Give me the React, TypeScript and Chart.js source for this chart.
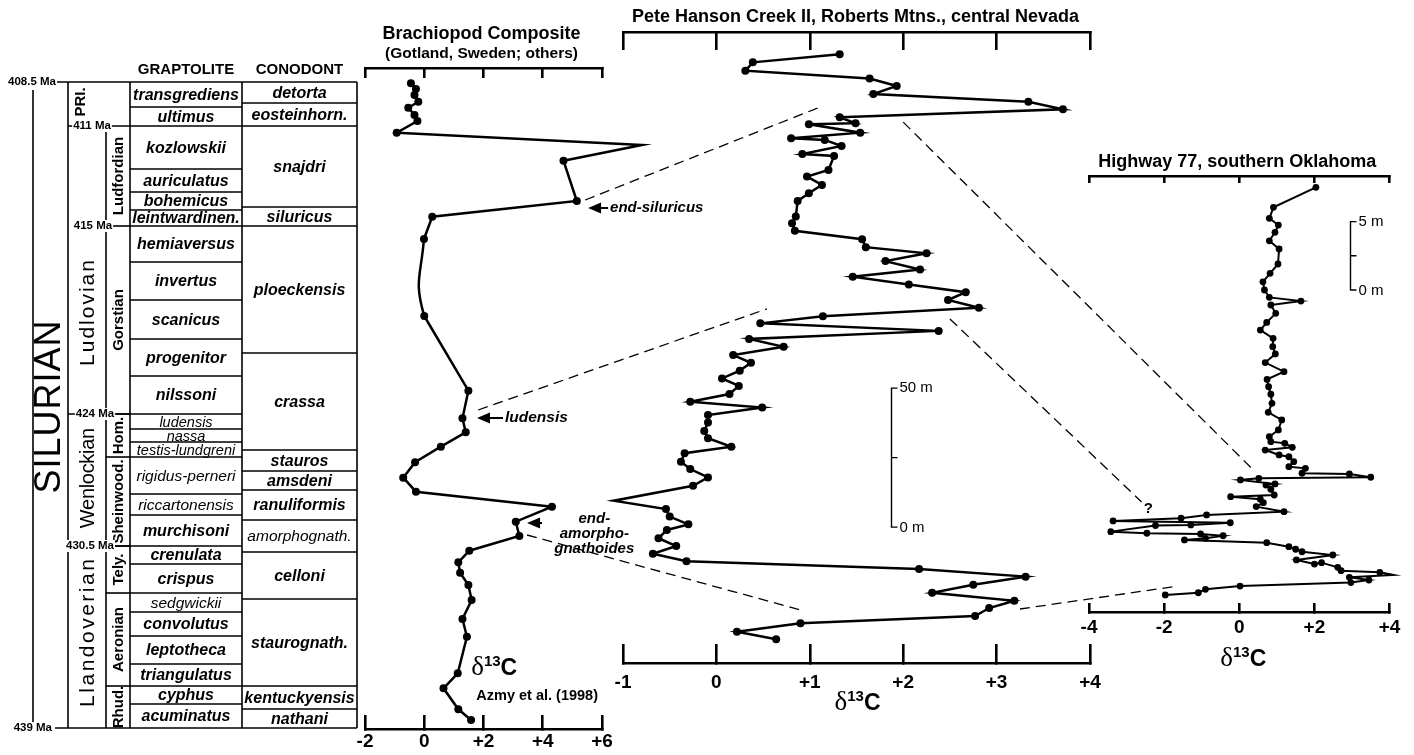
import React, { useEffect, useRef } from 'react';
import Chart from 'chart.js/auto';

const SANS = '"Liberation Sans", Arial, Helvetica, sans-serif';
const SERIF = '"Liberation Serif", "Times New Roman", Times, serif';
const PAGE_W = 1414;
const PAGE_H = 755;

// ---------- Brachiopod composite: δ13C vs level in the time column (0 = top, 408.5 Ma) ----------
const brachD13C = [-0.45, -0.28, -0.33, -0.2, -0.54, -0.33, -0.23, -0.93, 7.35, 4.7, 5.15, 0.27, -0.01, 0.0, 1.49, 1.29, 1.4, 0.56, -0.31, -0.71, -0.28, 4.31, 3.09, 3.21, 1.52, 1.15, 1.21, 1.49, 1.6, 1.29, 1.44, 1.13, 0.65, 1.15, 1.58];
const brachLevel = [1.3, 7, 13, 19.7, 25.7, 33, 39, 50.7, 63, 78.7, 119, 134.7, 157, 234, 308.7, 336.3, 350.3, 364.7, 380.3, 395.7, 409.7, 424.7, 439.7, 454, 468.7, 480.3, 490.7, 503, 518, 537, 554.7, 591.3, 606.3, 627.3, 638];
// the smoothed segment of the brachiopod curve runs between these two indices
const brachCurveFrom = 12;
const brachCurveTo = 13;

// ---------- Pete Hanson Creek II: δ13C vs height in section (m) ----------
const peteD13C = [1.32, 0.39, 0.31, 1.64, 1.93, 1.68, 3.34, 3.71, 1.32, 1.49, 0.99, 1.54, 0.8, 1.16, 1.34, 0.92, 1.26, 1.2, 0.97, 1.13, 0.99, 0.87, 0.85, 0.81, 0.84, 1.56, 1.6, 2.25, 1.81, 2.18, 1.46, 2.06, 2.67, 2.48, 2.81, 1.14, 0.47, 2.38, 0.35, 0.72, 0.18, 0.37, 0.25, 0.06, 0.24, 0.14, -0.28, 0.49, -0.09, -0.09, -0.13, -0.09, 0.16, -0.34, -0.38, -0.28, -0.09, -0.25, -1.1, -0.54, -0.5, -0.3, -0.53, -0.62, -0.43, -0.68, -0.32, 2.17, 3.31, 2.75, 2.31, 3.19, 2.92, 2.77, 0.9, 0.22, 0.64];
const peteHeight = [210.7, 207.8, 204.8, 202.0, 199.3, 196.4, 193.6, 190.9, 188.0, 185.9, 185.5, 182.5, 180.5, 179.9, 177.7, 174.8, 174.1, 169.1, 166.7, 163.7, 160.7, 157.9, 152.3, 149.9, 147.2, 144.2, 141.3, 139.1, 136.3, 133.3, 130.7, 127.9, 125.1, 122.3, 119.5, 116.5, 113.9, 111.2, 108.3, 105.5, 102.5, 99.7, 96.9, 94.1, 91.4, 88.5, 85.7, 83.6, 80.9, 78.2, 75.2, 72.6, 69.5, 67.2, 64.1, 61.5, 58.5, 55.5, 50.1, 47.1, 44.4, 41.6, 39.6, 36.6, 33.8, 31.0, 28.3, 25.5, 22.8, 19.9, 17.0, 14.1, 11.5, 8.6, 6.0, 3.0, 0.3];

// ---------- Highway 77, southern Oklahoma: δ13C vs height (m) ----------
const hwyD13C = [2.04, 0.91, 0.8, 1.04, 0.95, 0.8, 1.06, 1.03, 0.82, 0.63, 0.67, 0.8, 1.64, 0.84, 0.97, 0.73, 0.56, 0.9, 0.89, 0.96, 0.69, 1.19, 0.74, 0.78, 0.84, 0.87, 0.77, 1.13, 1.04, 0.8, 0.84, 1.21, 1.41, 0.69, 1.06, 1.32, 1.45, 1.32, 1.76, 1.67, 2.93, 3.5, 0.52, 0.03, 0.95, 0.71, 0.84, 0.93, -0.23, 0.56, 0.64, 0.45, 1.19, -0.87, -1.55, -3.36, -0.24, -1.29, -2.23, -3.42, -2.46, -1.03, -0.43, -0.9, -1.46, 0.73, 1.32, 1.5, 1.67, 2.49, 1.52, 2.0, 2.19, 2.62, 2.71, 3.74, 4.1, 2.93, 3.45, 2.97, 0.02, -0.9, -1.09, -1.97];
const hwyHeight = [30.19, 28.73, 27.92, 27.43, 26.9, 26.28, 25.68, 24.58, 23.9, 23.28, 22.68, 22.14, 21.87, 21.58, 20.97, 20.31, 19.75, 19.14, 18.53, 18.0, 17.37, 16.7, 16.14, 15.6, 15.05, 14.39, 13.73, 13.17, 12.44, 11.95, 11.58, 11.46, 11.17, 10.97, 10.61, 10.48, 10.12, 9.75, 9.63, 9.27, 9.22, 8.98, 8.9, 8.78, 8.49, 8.41, 8.1, 7.68, 7.56, 7.37, 7.12, 6.83, 6.46, 6.22, 5.98, 5.78, 5.65, 5.49, 5.45, 5.0, 4.88, 4.83, 4.7, 4.51, 4.39, 4.19, 3.9, 3.71, 3.53, 3.29, 2.93, 2.63, 2.73, 2.39, 2.14, 2.02, 1.83, 1.66, 1.46, 1.27, 1.02, 0.78, 0.53, 0.37];

// ---------- axis ticks ----------
const brachTicks = [-2, 0, 2, 4, 6];
const peteTicks = [-1, 0, 1, 2, 3, 4];
const hwyTicks = [-4, -2, 0, 2, 4];

// ---------- time column (levels, 0 = 408.5 Ma top, 646 = 439 Ma base) ----------
const graptoliteZones = ['transgrediens', 'ultimus', 'kozlowskii', 'auriculatus', 'bohemicus', 'leintwardinen.', 'hemiaversus', 'invertus', 'scanicus', 'progenitor', 'nilssoni', 'ludensis', 'nassa', 'testis-lundgreni', 'rigidus-perneri', 'riccartonensis', 'murchisoni', 'crenulata', 'crispus', 'sedgwickii', 'convolutus', 'leptotheca', 'triangulatus', 'cyphus', 'acuminatus'];
const graptoliteBounds = [0, 25, 44, 87, 110, 128, 144, 180, 218, 257, 294, 332, 347, 360, 375, 412, 433, 464, 482, 511, 530, 554, 582, 604, 622, 646];
const conodontZones = ['detorta', 'eosteinhorn.', 'snajdri', 'siluricus', 'ploeckensis', 'crassa', 'stauros', 'amsdeni', 'ranuliformis', 'amorphognath.', 'celloni', 'staurognath.', 'kentuckyensis', 'nathani'];
const conodontBounds = [0, 21, 44, 125, 144, 271, 368, 389, 408, 438, 470, 517, 604, 627, 646];
const lightZoneSize: Record<string, number> = { ludensis: 14.5, nassa: 14.5, 'testis-lundgreni': 14.5, 'rigidus-perneri': 15.5, riccartonensis: 15.5, sedgwickii: 15.5, 'amorphognath.': 15.5 };
const stageNames = ['Ludfordian', 'Gorstian', 'Hom.', 'Sheinwood.', 'Tely.', 'Aeronian', 'Rhud.'];
const stageBounds = [44, 144, 332, 375, 464, 511, 604, 646];
const seriesNames = ['Ludlovian', 'Wenlockian', 'Llandoverian'];
const seriesBounds = [44, 332, 464, 646];
const seriesLabelLevel = [231, 396, 551];
const seriesLabelSize = [21, 20, 21];
const seriesLabelSpacing = [2, -0.3, 2.5];
const maLabels = ['408.5 Ma', '411 Ma', '415 Ma', '424 Ma', '430.5 Ma', '439 Ma'];
const maLevels = [0, 44, 144, 332, 464, 646];

// ---------- correlation lines [panel, δ13C, level/height] ----------
const corrFrom: [string, number, number][] = [['brach', 5.43, 118], ['brach', 1.82, 328], ['brach', 3.47, 453], ['pete', 2.0, 186.3], ['pete', 2.5, 115.5], ['pete', 3.25, 11.15]];
const corrTo: [string, number, number][] = [['pete', 1.11, 191.7], ['pete', 0.54, 119.1], ['pete', 0.9, 10.8], ['hwy', 0.32, 9.66], ['hwy', -2.6, 7.17], ['hwy', -1.63, 1.02]];

type Ctx = CanvasRenderingContext2D;

function txt(ctx: Ctx, s: string, x: number, y: number, font: string, align: CanvasTextAlign = 'center', baseline: CanvasTextBaseline = 'middle') {
  ctx.save();
  ctx.font = font;
  ctx.fillStyle = '#000';
  ctx.textAlign = align;
  ctx.textBaseline = baseline;
  ctx.fillText(s, x, y);
  ctx.restore();
}

function vtxt(ctx: Ctx, s: string, cx: number, cy: number, font: string, spacing = 0) {
  ctx.save();
  ctx.translate(cx, cy);
  ctx.rotate(-Math.PI / 2);
  ctx.font = font;
  (ctx as any).letterSpacing = spacing + 'px';
  ctx.fillStyle = '#000';
  ctx.textAlign = 'center';
  ctx.textBaseline = 'middle';
  ctx.fillText(s, spacing / 2, 0);
  ctx.restore();
}

function drawDelta(ctx: Ctx, cx: number, base: number) {
  const f1 = `27px ${SERIF}`;
  const f2 = `bold 15px ${SANS}`;
  const f3 = `bold 23px ${SANS}`;
  ctx.save();
  ctx.fillStyle = '#000';
  ctx.textAlign = 'left';
  ctx.textBaseline = 'alphabetic';
  ctx.font = f1; const w1 = ctx.measureText('δ').width;
  ctx.font = f2; const w2 = ctx.measureText('13').width;
  ctx.font = f3; const w3 = ctx.measureText('C').width;
  let x = cx - (w1 + w2 + w3) / 2;
  ctx.font = f1; ctx.fillText('δ', x, base); x += w1;
  ctx.font = f2; ctx.fillText('13', x, base - 9); x += w2;
  ctx.font = f3; ctx.fillText('C', x, base);
  ctx.restore();
}

function arrowLeft(ctx: Ctx, tipX: number, y: number, len: number) {
  ctx.save();
  ctx.fillStyle = '#000';
  ctx.strokeStyle = '#000';
  ctx.beginPath();
  ctx.moveTo(tipX, y);
  ctx.lineTo(tipX + 13, y - 5.5);
  ctx.lineTo(tipX + 13, y + 5.5);
  ctx.closePath();
  ctx.fill();
  ctx.lineWidth = 2;
  ctx.beginPath();
  ctx.moveTo(tipX + 12, y);
  ctx.lineTo(tipX + len, y);
  ctx.stroke();
  ctx.restore();
}

function scaleBar(ctx: Ctx, chart: any, xVal: number, base: number, len: number, lo: string, hi: string) {
  const xs = chart.scales.x, ys = chart.scales.y;
  const x = Math.round(xs.getPixelForValue(xVal)) + 0.5;
  const y0 = ys.getPixelForValue(base), y1 = ys.getPixelForValue(base + len), ym = ys.getPixelForValue(base + len / 2);
  ctx.save();
  ctx.strokeStyle = '#000';
  ctx.lineWidth = 1.4;
  ctx.beginPath();
  ctx.moveTo(x + 6, y1); ctx.lineTo(x, y1); ctx.lineTo(x, y0); ctx.lineTo(x + 6, y0);
  ctx.moveTo(x, ym); ctx.lineTo(x + 6, ym);
  ctx.stroke();
  ctx.restore();
  txt(ctx, hi, x + 8, y1, `15px ${SANS}`, 'left');
  txt(ctx, lo, x + 8, y0 + 1, `15px ${SANS}`, 'left');
}

function drawColumn(ctx: Ctx, ys: any) {
  const Y = (lv: number) => ys.getPixelForValue(lv);
  const X = { bracket: 33, series: 68, stage: 106, grapt: 130, cono: 242, right: 357 };
  const top = Y(maLevels[0]);
  const bot = Y(maLevels[maLevels.length - 1]);
  ctx.save();
  ctx.strokeStyle = '#000';
  ctx.lineWidth = 1.6;
  const ln = (x1: number, y1: number, x2: number, y2: number) => { ctx.beginPath(); ctx.moveTo(x1, y1); ctx.lineTo(x2, y2); ctx.stroke(); };
  ln(X.bracket, Y(8), X.bracket, bot);
  ln(X.series, top, X.series, bot);
  ln(X.stage, Y(stageBounds[0]), X.stage, bot);
  ln(X.grapt, top, X.grapt, bot);
  ln(X.cono, top, X.cono, bot);
  ln(X.right, top, X.right, bot);
  ln(57, top, X.right, top);
  ln(55, bot, X.right, bot);
  graptoliteBounds.slice(1, -1).forEach((b) => ln(X.grapt, Y(b), X.cono, Y(b)));
  conodontBounds.slice(1, -1).forEach((b) => ln(X.cono, Y(b), X.right, Y(b)));
  seriesBounds.slice(0, -1).forEach((b) => ln(X.series, Y(b), X.grapt, Y(b)));
  stageBounds.slice(1, -1).forEach((b) => ln(X.stage, Y(b), X.grapt, Y(b)));
  ctx.restore();

  txt(ctx, 'GRAPTOLITE', (X.grapt + X.cono) / 2, top - 12, `bold 15px ${SANS}`);
  txt(ctx, 'CONODONT', (X.cono + X.right) / 2, top - 12, `bold 15px ${SANS}`);

  graptoliteZones.forEach((z, i) => {
    const cy = Y((graptoliteBounds[i] + graptoliteBounds[i + 1]) / 2);
    const light = lightZoneSize[z];
    txt(ctx, z, (X.grapt + X.cono) / 2, cy + 1, light ? `italic ${light}px ${SANS}` : `italic bold 16px ${SANS}`);
  });
  conodontZones.forEach((z, i) => {
    const cy = Y((conodontBounds[i] + conodontBounds[i + 1]) / 2);
    const light = lightZoneSize[z];
    txt(ctx, z, (X.cono + X.right) / 2, cy + 1, light ? `italic ${light}px ${SANS}` : `italic bold 16px ${SANS}`);
  });

  vtxt(ctx, 'PRI.', 81, Y(20), `bold 15px ${SANS}`);
  stageNames.forEach((s, i) => {
    vtxt(ctx, s, 119, Y((stageBounds[i] + stageBounds[i + 1]) / 2), `bold 15px ${SANS}`);
  });
  seriesNames.forEach((s, i) => {
    vtxt(ctx, s, 88, Y(seriesLabelLevel[i]), `${seriesLabelSize[i]}px ${SANS}`, seriesLabelSpacing[i]);
  });
  vtxt(ctx, 'SILURIAN', 50, Y(325), `36px ${SANS}`, 1);

  const maX = [56, 92, 93, 95, 90, 52];
  const maAlign: CanvasTextAlign[] = ['right', 'center', 'center', 'center', 'center', 'right'];
  maLabels.forEach((m, i) => {
    const y = Y(maLevels[i]);
    ctx.save();
    ctx.font = `bold 11.5px ${SANS}`;
    const w = ctx.measureText(m).width;
    const left = maAlign[i] === 'right' ? maX[i] - w : maX[i] - w / 2;
    ctx.fillStyle = '#fff';
    ctx.fillRect(left - 1, y - 6, w + 2, 12);
    ctx.restore();
    txt(ctx, m, maX[i], y, `bold 11.5px ${SANS}`, maAlign[i]);
  });
}

const TOP_BOX = 20;
const bottomBox = (axisY: number) => Math.min(50, PAGE_H - axisY);

function xAxis(position: 'top' | 'bottom', ticksArr: number[], tickLen: number, labels: boolean, labelPad: number, boxH: number) {
  return {
    type: 'linear',
    axis: 'x',
    position,
    min: ticksArr[0],
    max: ticksArr[ticksArr.length - 1],
    afterBuildTicks: (s: any) => { s.ticks = ticksArr.map((v) => ({ value: v })); },
    afterFit: (s: any) => { s.height = boxH; },
    ticks: {
      display: labels,
      padding: labelPad,
      color: '#000',
      maxRotation: 0,
      autoSkip: false,
      font: { family: SANS, size: 19, weight: 'bold' },
      callback: (v: any) => (Number(v) > 0 ? '+' + v : String(v)),
    },
    grid: { drawOnChartArea: false, drawTicks: true, tickLength: -tickLen, color: '#000', lineWidth: 2.6 },
    border: { display: true, color: '#000', width: 2.6 },
  };
}

type Series = { xs: number[]; ys: number[]; tension: number; points: boolean; onlySegment?: number };
type PanelCfg = {
  canvas: HTMLCanvasElement;
  series: Series[];
  ticks: number[];
  yMin: number; yMax: number; reverse: boolean;
  left: number; right: number; topY: number; bottomY: number;
  topTick: number; bottomTick: number; labelPad: number;
  pointRadius: number; lineWidth: number;
  plugin: any;
};

function makePanel(c: PanelCfg) {
  const bb = bottomBox(c.bottomY);
  return new Chart(c.canvas, {
    type: 'scatter',
    data: {
      datasets: c.series.map((s) => ({
        data: s.xs.map((v, i) => ({ x: v, y: s.ys[i] })),
        showLine: true,
        borderColor: '#000',
        borderWidth: c.lineWidth,
        pointRadius: s.points ? c.pointRadius : 0,
        pointHoverRadius: s.points ? c.pointRadius : 0,
        pointBackgroundColor: '#000',
        pointBorderColor: '#000',
        pointBorderWidth: 0,
        tension: s.tension,
        capBezierPoints: false,
        clip: false,
        xAxisID: 'x',
        yAxisID: 'y',
        segment: s.onlySegment === undefined ? undefined : {
          borderColor: (sc: any) => (sc.p0DataIndex === s.onlySegment ? '#000' : 'rgba(0,0,0,0)'),
        },
      } as any)),
    },
    options: {
      responsive: false,
      animation: false,
      devicePixelRatio: 1,
      events: [],
      layout: { padding: { left: c.left, right: PAGE_W - c.right, top: c.topY - TOP_BOX, bottom: PAGE_H - c.bottomY - bb } },
      plugins: { legend: { display: false }, tooltip: { enabled: false }, title: { display: false } },
      scales: {
        x: xAxis('bottom', c.ticks, c.bottomTick, true, c.labelPad, bb) as any,
        xTop: xAxis('top', c.ticks, c.topTick, false, 0, TOP_BOX) as any,
        y: { type: 'linear', display: false, min: c.yMin, max: c.yMax, reverse: c.reverse },
      },
    },
    plugins: [c.plugin],
  });
}

export default function App() {
  const aRef = useRef<HTMLCanvasElement>(null);
  const bRef = useRef<HTMLCanvasElement>(null);
  const cRef = useRef<HTMLCanvasElement>(null);

  useEffect(() => {
    document.body.style.margin = '0';
    const charts: Record<string, any> = {};

    const brachPlugin = {
      id: 'brachExtras',
      afterDraw(chart: any) {
        const ctx: Ctx = chart.ctx;
        const xs = chart.scales.x, ys = chart.scales.y;
        const ca = chart.chartArea;
        const cx = (ca.left + ca.right) / 2;
        drawColumn(ctx, ys);
        txt(ctx, 'Brachiopod Composite', cx - 2, ca.top - 34, `bold 18px ${SANS}`);
        txt(ctx, '(Gotland, Sweden; others)', cx - 2, ca.top - 14, `bold 15.5px ${SANS}`);
        const P = (x: number, y: number) => [xs.getPixelForValue(x), ys.getPixelForValue(y)];
        let [ax, ay] = P(5.53, 126);
        arrowLeft(ctx, ax, ay, 20);
        txt(ctx, 'end-siluricus', ax + 22, ay, `italic bold 15px ${SANS}`, 'left');
        [ax, ay] = P(1.78, 336);
        arrowLeft(ctx, ax, ay, 26);
        txt(ctx, 'ludensis', ax + 28, ay, `italic bold 15.5px ${SANS}`, 'left');
        [ax, ay] = P(3.47, 441);
        arrowLeft(ctx, ax, ay, 15);
        const tx = xs.getPixelForValue(5.74);
        txt(ctx, 'end-', tx, ys.getPixelForValue(437), `italic bold 15px ${SANS}`);
        txt(ctx, 'amorpho-', tx, ys.getPixelForValue(452), `italic bold 15px ${SANS}`);
        txt(ctx, 'gnathoides', tx, ys.getPixelForValue(467), `italic bold 15px ${SANS}`);
        const [dx, dy] = P(2.36, 593);
        drawDelta(ctx, dx, dy);
        const [rx, ry] = P(3.81, 614);
        txt(ctx, 'Azmy et al. (1998)', rx, ry, `bold 14.5px ${SANS}`);
      },
    };

    const petePlugin = {
      id: 'peteExtras',
      afterDraw(chart: any) {
        const ctx: Ctx = chart.ctx;
        const ca = chart.chartArea;
        const cx = (ca.left + ca.right) / 2;
        txt(ctx, 'Pete Hanson Creek II, Roberts Mtns., central Nevada', cx - 1, ca.top - 15, `bold 18px ${SANS}`);
        drawDelta(ctx, cx + 1, ca.bottom + 47);
        scaleBar(ctx, chart, 1.87, 40.6, 50, '0 m', '50 m');
      },
    };

    const hwyPlugin = {
      id: 'hwyExtras',
      afterDraw(chart: any) {
        const ctx: Ctx = chart.ctx;
        const ca = chart.chartArea;
        const cx = (ca.left + ca.right) / 2;
        txt(ctx, 'Highway 77, southern Oklahoma', cx - 2, ca.top - 14, `bold 18px ${SANS}`);
        drawDelta(ctx, cx + 4, ca.bottom + 54);
        scaleBar(ctx, chart, 2.96, 22.68, 5, '0 m', '5 m');
        txt(ctx, '?', chart.scales.x.getPixelForValue(-2.42), chart.scales.y.getPixelForValue(6.7), `bold 15px ${SANS}`);
        const get = (name: string) => (name === 'hwy' ? chart : charts[name]);
        const px = (p: [string, number, number]) => {
          const ch = get(p[0]);
          if (!ch) return null;
          return [ch.scales.x.getPixelForValue(p[1]), ch.scales.y.getPixelForValue(p[2])];
        };
        ctx.save();
        ctx.strokeStyle = '#000';
        ctx.lineWidth = 1.3;
        ctx.setLineDash([10, 6]);
        corrFrom.forEach((f, i) => {
          const a = px(f), b = px(corrTo[i]);
          if (!a || !b) return;
          ctx.beginPath();
          ctx.moveTo(a[0], a[1]);
          ctx.lineTo(b[0], b[1]);
          ctx.stroke();
        });
        ctx.restore();
      },
    };

    const f = brachCurveFrom, t = brachCurveTo;
    charts.brach = makePanel({
      canvas: aRef.current!,
      series: [
        // straight part above the smoothed segment
        { xs: brachD13C.slice(0, f + 1), ys: brachLevel.slice(0, f + 1), tension: 0, points: true },
        // smoothed segment (neighbouring points shape the spline, only the middle segment is stroked)
        { xs: brachD13C.slice(f - 1, t + 2), ys: brachLevel.slice(f - 1, t + 2), tension: 0.5, points: false, onlySegment: 1 },
        // straight part below
        { xs: brachD13C.slice(t), ys: brachLevel.slice(t), tension: 0, points: true },
      ],
      ticks: brachTicks,
      yMin: -14, yMax: 647, reverse: true,
      left: 365, right: 602, topY: 68, bottomY: 729,
      topTick: 10, bottomTick: 14, labelPad: 15.6,
      pointRadius: 4, lineWidth: 2.5, plugin: brachPlugin,
    });
    charts.pete = makePanel({
      canvas: bRef.current!,
      series: [{ xs: peteD13C, ys: peteHeight, tension: 0, points: true }],
      ticks: peteTicks,
      yMin: -8.27, yMax: 218.71, reverse: false,
      left: 623, right: 1090, topY: 32, bottomY: 663,
      topTick: 18, bottomTick: 19, labelPad: 27.6,
      pointRadius: 4, lineWidth: 2.5, plugin: petePlugin,
    });
    charts.hwy = makePanel({
      canvas: cRef.current!,
      series: [{ xs: hwyD13C, ys: hwyHeight, tension: 0, points: true }],
      ticks: hwyTicks,
      yMin: -0.88, yMax: 31.02, reverse: false,
      left: 1089, right: 1396, topY: 176, bottomY: 612,
      topTick: 7, bottomTick: 9, labelPad: 13.6,
      pointRadius: 3.4, lineWidth: 2, plugin: hwyPlugin,
    });

    return () => {
      Object.values(charts).forEach((c) => c.destroy());
    };
  }, []);

  const cs: React.CSSProperties = { position: 'absolute', left: 0, top: 0, width: PAGE_W, height: PAGE_H };
  return (
    <div style={{ position: 'fixed', left: 0, top: 0, width: PAGE_W, height: PAGE_H, background: '#fff', overflow: 'hidden' }}>
      <canvas ref={aRef} width={PAGE_W} height={PAGE_H} style={cs} />
      <canvas ref={bRef} width={PAGE_W} height={PAGE_H} style={cs} />
      <canvas ref={cRef} width={PAGE_W} height={PAGE_H} style={cs} />
    </div>
  );
}
